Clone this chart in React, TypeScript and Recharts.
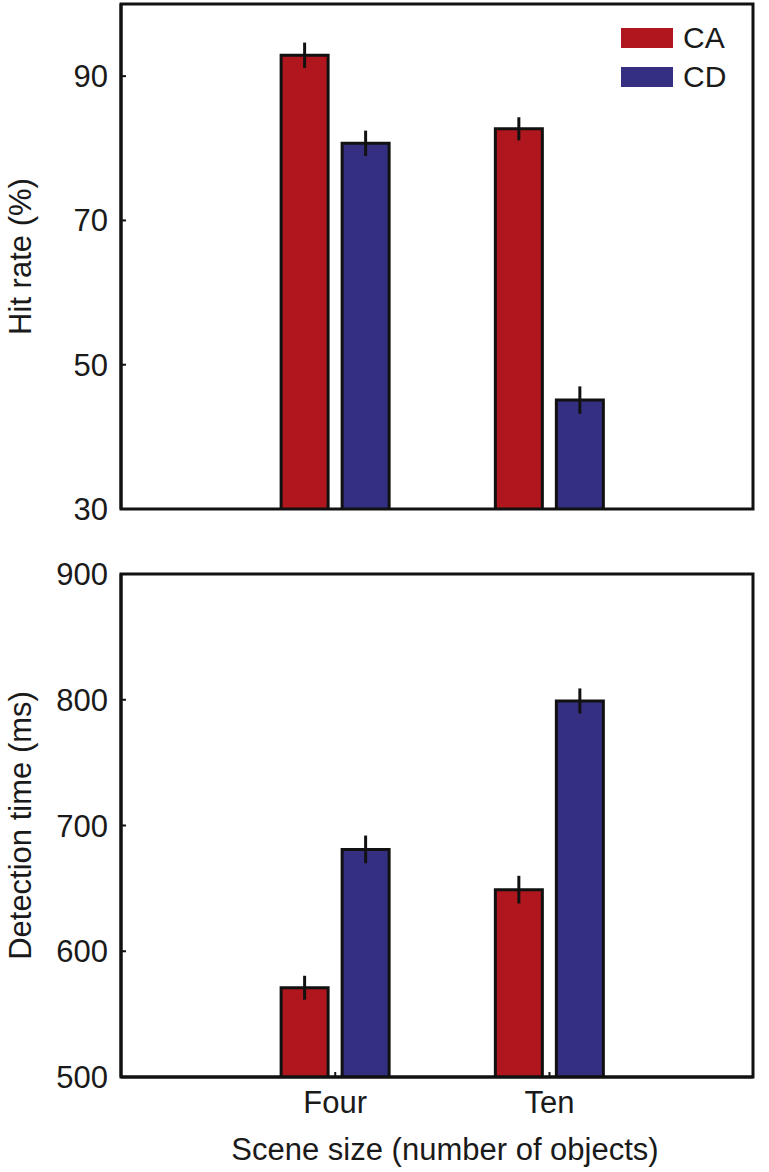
import { BarChart, Bar, XAxis, YAxis, ErrorBar, Legend, ReferenceArea } from "recharts";

const categories = ["Four", "Ten"];

// hit rate (%)
const hitCA = [92.9, 82.7];
const hitCAErr = [1.75, 1.6];
const hitCD = [80.7, 45.1];
const hitCDErr = [1.75, 1.9];
const hitDomain = [30, 100];
const hitTicks = [30, 50, 70, 90];

// detection time (ms)
const timeCA = [571, 649];
const timeCAErr = [9.5, 11];
const timeCD = [681, 799];
const timeCDErr = [11, 10];
const timeDomain = [500, 900];
const timeTicks = [500, 600, 700, 800, 900];

const RED = "#AF161D";
const BLUE = "#342F80";
const INK = "#111";
const FONT = '"Liberation Sans", Arial, sans-serif';

// categories sit at 1 and 2 on a numeric x axis, like the original plot
const xTicks = categories.map((_, i) => i + 1);
const xDomain = [0, 2.95];

const hitData = categories.map((name, i) => ({
  x: i + 1,
  name,
  ca: hitCA[i],
  caErr: hitCAErr[i],
  cd: hitCD[i],
  cdErr: hitCDErr[i],
}));

const timeData = categories.map((name, i) => ({
  x: i + 1,
  name,
  ca: timeCA[i],
  caErr: timeCAErr[i],
  cd: timeCD[i],
  cdErr: timeCDErr[i],
}));

const tickStyle = { fontSize: 31, fill: "#1a1a1a", fontFamily: FONT };
const labelStyle = { fontSize: 31, fill: "#1a1a1a", fontFamily: FONT, textAnchor: "middle" as const };

function LegendBox() {
  const rows = [
    { label: "CA", color: RED },
    { label: "CD", color: BLUE },
  ];
  return (
    <div style={{ fontFamily: FONT, fontSize: 30, color: "#1a1a1a" }}>
      {rows.map((r) => (
        <div key={r.label} style={{ display: "flex", alignItems: "center", height: 39 }}>
          <span style={{ width: 52, height: 20, background: r.color, marginRight: 10 }} />
          <span>{r.label}</span>
        </div>
      ))}
    </div>
  );
}

function Bars() {
  return [
    <Bar key="ca" dataKey="ca" fill={RED} stroke={INK} strokeWidth={3} isAnimationActive={false}>
      <ErrorBar dataKey="caErr" width={0} stroke={INK} strokeWidth={3} isAnimationActive={false} />
    </Bar>,
    <Bar key="cd" dataKey="cd" fill={BLUE} stroke={INK} strokeWidth={3} isAnimationActive={false}>
      <ErrorBar dataKey="cdErr" width={0} stroke={INK} strokeWidth={3} isAnimationActive={false} />
    </Bar>,
  ];
}

const fmtCategory = (v: number) => categories[v - 1] ?? "";

export default function App() {
  const axisLine = { stroke: INK, strokeWidth: 3 };
  const tickLine = { stroke: INK, strokeWidth: 2 };
  return (
    <div style={{ position: "absolute", left: 0, top: 0, width: 769, height: 1172, background: "#fff" }}>
      <BarChart
        width={769}
        height={540}
        data={hitData}
        barSize={47}
        barGap={14}
        margin={{ top: 4, right: 16, bottom: 31, left: 0 }}
      >
        <XAxis
          dataKey="x"
          type="number"
          domain={xDomain}
          ticks={xTicks}
          allowDataOverflow
          height={0}
          tick={false}
          tickSize={-5}
          tickLine={tickLine}
          axisLine={axisLine}
        />
        <YAxis
          domain={hitDomain}
          ticks={hitTicks}
          width={121}
          tickSize={-5}
          tickMargin={18}
          tick={tickStyle}
          tickLine={tickLine}
          axisLine={axisLine}
          allowDataOverflow
          label={{ value: "Hit rate (%)", angle: -90, position: "insideLeft", offset: 20, style: labelStyle }}
        />
        <ReferenceArea y1={hitDomain[0]} y2={hitDomain[1]} fill="none" stroke={INK} strokeWidth={3} ifOverflow="visible" />
        <Legend
          layout="horizontal"
          verticalAlign="middle"
          align="center"
          content={<LegendBox />}
          wrapperStyle={{ left: 621, top: 18, width: "auto" }}
        />
        {Bars()}
      </BarChart>
      <BarChart
        width={769}
        height={627}
        data={timeData}
        barSize={47}
        barGap={14}
        margin={{ top: 34, right: 16, bottom: 0, left: 0 }}
      >
        <XAxis
          dataKey="x"
          type="number"
          domain={xDomain}
          ticks={xTicks}
          allowDataOverflow
          tickFormatter={fmtCategory}
          height={90}
          tick={tickStyle}
          tickSize={-5}
          tickMargin={19}
          tickLine={tickLine}
          axisLine={axisLine}
          label={{ value: "Scene size (number of objects)", position: "insideBottom", offset: 7, dx: 8, style: labelStyle }}
        />
        <YAxis
          domain={timeDomain}
          ticks={timeTicks}
          width={121}
          tickSize={-5}
          tickMargin={18}
          tick={tickStyle}
          tickLine={tickLine}
          axisLine={axisLine}
          allowDataOverflow
          label={{ value: "Detection time (ms)", angle: -90, position: "insideLeft", offset: 20, style: labelStyle }}
        />
        <ReferenceArea y1={timeDomain[0]} y2={timeDomain[1]} fill="none" stroke={INK} strokeWidth={3} ifOverflow="visible" />
        {Bars()}
      </BarChart>
    </div>
  );
}
